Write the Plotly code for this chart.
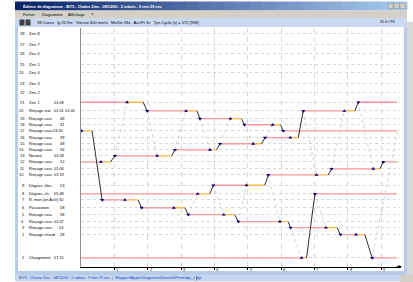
import plotly.graph_objects as go

W, H = 413, 282

# ---------------- data ----------------
station_num = [28, 27, 26, 25, 24, 23, 22, 21, 20, 19, 18, 17, 16, 15, 14, 13, 12, 11, 10, 9, 8, 7, 6, 5, 4, 3, 2, 1]
station_name = ["Zinc 8", "Zinc 7", "Zinc 6", "Zinc 5", "Zinc 4", "Zinc 3", "Zinc 2", "Zinc 1",
                "Rinçage stat", "Rinçage casc", "Rinçage casc", "Rinçage casc", "Rinçage casc",
                "Rinçage casc", "Rinçage casc", "Neutral.", "Rinçage casc", "Rinçage casc",
                "Rinçage casc", "Dégrais. élec.", "Dégrais. ch.", "R. mort (en Actir)",
                "Passivation", "Rinçage casc", "Rinçage casc", "Rinçage casc", "Rinçage chaud",
                "Chargement"]
station_time = ["", "", "", "", "", "", "", "01:09", "01:01", "48", "41", "03:20", "39", "48", "56",
                "01:09", "52", "01:06", "01:19", "53", "05:48", "30", "58", "58", "01:07", "54", "28",
                "07:15"]
station_time2 = ["", "", "", "", "", "", "", "", "01:04", "", "", "", "", "", "", "", "", "", "", "",
                 "", "", "", "", "", "", "", ""]
# position along the line (m), line length 25.9 m
station_pos = [0.0, 1.2, 2.3, 3.5, 4.5, 5.7, 6.8, 7.9, 8.9, 9.8, 10.5, 11.2, 12.0, 12.7, 13.4, 14.1,
               14.8, 15.6, 16.3, 17.5, 18.5, 19.2, 20.1, 20.9, 21.7, 22.4, 23.2, 25.9]

# transfers (seconds)
tr_from = [17, 12, 7, 21, 13, 6, 20, 8, 14, 5, 19, 9, 15, 18, 4, 16, 1, 10, 3, 20, 2, 11]
tr_to = [7, 13, 6, 20, 14, 5, 19, 9, 15, 4, 18, 10, 16, 17, 3, 20, 8, 11, 2, 21, 1, 12]
tr_pick = [1, 36, 79, 83, 137, 167, 189, 210, 232, 257, 269, 298, 310, 345, 358, 377, 397, 424, 441, 474, 495, 526]
tr_lift = [20, 53, 103, 112, 163, 187, 209, 232, 244, 277, 289, 331, 325, 359, 373, 391, 406, 445, 461, 493, 511, 538]
tr_drop = [38, 61, 109, 119, 169, 193, 214, 238, 250, 283, 294, 337, 331, 364, 377, 400, 421, 451, 467, 499, 524, 544]
tr_robot = [2, 1, 2, 1, 1, 2, 1, 2, 1, 2, 1, 2, 1, 1, 2, 1, 2, 1, 2, 1, 2, 1]
cycle = 569

minute_ticks = [60, 120, 180, 240, 300, 360, 420, 480, 540]
minute_labels = ["1'", "2'", "3'", "4'", "5'", "6'", "7'", "8'", "9'"]

title_text = "Éditeur de diagramme - B/75 - Chaîne Zinc - 08/12/00 - 2 robots - 9 min 29 sec"
menu_items = ["Fichier", "Diagramme", "Affichage", "?"]
toolbar_text = "28 Cuves   lg 25,9m   Vitesse 600 mm/s   Mo/De 18s   Acc/Fr 3s   Tps Cycle (s) = 572 (968)"
toolbar_right = "31.6 / 95"
status_text = "B/75 : Chaine Zinc : 08/12/00 : 2 robots : 9 min 29 sec  |  \\Mapperl\\Applic\\Diagramm\\Devis\\tk\\Perm\\dgr_1.dgr"

# ---------------- helpers ----------------
pos = dict(zip(station_num, station_pos))


def px(x):
    return x / W


def py(y):
    return 1 - y / H


FONT = "Liberation Sans"

# ---------------- traces ----------------
fig = go.Figure()

# tank occupation (pink)
occ_x, occ_y = [], []
n = len(tr_from)
for i in range(n):
    st = tr_to[i]
    t0 = tr_drop[i]
    picks = [tr_pick[j] for j in range(n) if tr_from[j] == st]
    after = [p for p in picks if p > t0]
    if after:
        occ_x += [t0, min(after), None]
        occ_y += [pos[st], pos[st], None]
    else:
        t1 = min(picks)
        occ_x += [t0, cycle, None, 0, t1, None]
        occ_y += [pos[st], pos[st], None, pos[st], pos[st], None]
fig.add_trace(go.Scatter(x=occ_x, y=occ_y, mode="lines",
                         line=dict(color="#ff9a9a", width=1.3), hoverinfo="skip"))

# empty robot moves (grey dotted)
for r in (1, 2):
    idx = sorted([i for i in range(n) if tr_robot[i] == r], key=lambda i: tr_pick[i])
    ex, ey = [], []
    for k, i in enumerate(idx):
        j = idx[(k + 1) % len(idx)]
        tp = tr_pick[j] + (cycle if k == len(idx) - 1 else 0)
        ex += [tr_drop[i], tp, None]
        ey += [pos[tr_to[i]], pos[tr_from[j]], None]
        if k == len(idx) - 1:
            ex += [tr_drop[i] - cycle, tr_pick[j], None]
            ey += [pos[tr_to[i]], pos[tr_from[j]], None]
    fig.add_trace(go.Scatter(x=ex, y=ey, mode="lines",
                             line=dict(color="#c4c4c4", width=0.8, dash="dot"), hoverinfo="skip"))

# lifting / dripping (orange)
ox, oy = [], []
for i in range(n):
    ox += [tr_pick[i], tr_lift[i], None]
    oy += [pos[tr_from[i]], pos[tr_from[i]], None]
fig.add_trace(go.Scatter(x=ox, y=oy, mode="lines",
                         line=dict(color="#ffb84d", width=1.3), hoverinfo="skip"))

# loaded transfer (black)
bx, by = [], []
for i in range(n):
    bx += [tr_lift[i], tr_drop[i], tr_drop[i] + 3, None]
    by += [pos[tr_from[i]], pos[tr_to[i]], pos[tr_to[i]], None]
fig.add_trace(go.Scatter(x=bx, y=by, mode="lines",
                         line=dict(color="#303030", width=1), hoverinfo="skip"))

# markers
fig.add_trace(go.Scatter(x=tr_pick, y=[pos[s] for s in tr_from], mode="markers",
                         marker=dict(symbol="triangle-up", size=3.5, color="#000080"), hoverinfo="skip"))
fig.add_trace(go.Scatter(x=tr_drop, y=[pos[s] for s in tr_to], mode="markers",
                         marker=dict(symbol="triangle-down", size=3.5, color="#000080"), hoverinfo="skip"))

# ---------------- window chrome ----------------
shapes = []


def rect(x0, y0, x1, y1, color, layer="below", line=None):
    shapes.append(dict(type="rect", xref="paper", yref="paper",
                       x0=px(x0), x1=px(x1), y0=py(y1), y1=py(y0),
                       fillcolor=color, line=line or dict(width=0), layer=layer))


# title bar gradient
c0 = (10, 36, 106)
c1 = (166, 202, 240)
steps = 30
x_start, x_end = 15, 407
for k in range(steps):
    f = k / (steps - 1)
    col = "rgb(%d,%d,%d)" % tuple(int(c0[m] + (c1[m] - c0[m]) * f) for m in range(3))
    xa = x_start + (x_end - x_start) * k / steps
    xb = x_start + (x_end - x_start) * (k + 1) / steps + 0.5
    rect(xa, 1.5, xb, 10.5, col)
# title buttons
for bx0 in (388, 394, 400):
    rect(bx0, 3.2, bx0 + 5.2, 8.8, "#d4d0c8", layer="above", line=dict(color="#808080", width=0.5))
# menu bar
rect(15, 10.5, 407, 18, "#d4d0c8")
# toolbar
rect(15, 18, 407, 27, "#c9daf0")
rect(19.5, 19.5, 24.5, 25.5, "#404040", layer="above")
rect(25.5, 19.5, 30.5, 25.5, "#404040", layer="above")
# left frame
rect(15, 27, 18, 275, "#b9cbe6")
# right frame / grey desktop
rect(404, 27, 407, 275, "#b9cbe6")
rect(407, 22, 413, 282, "#d8d8d8")
# bottom frame and status bar
rect(15, 271, 407, 275, "#b9cbe6")
rect(15, 275, 407, 281.5, "#c6d7f0")
rect(196, 275.5, 197, 281, "#8090b0")
rect(400, 275, 413, 282, "#d4d0c8")

annotations = []


def text(x, y, s, size=4.0, color="#000000", anchor="left", bold=False, yref="paper", xref="paper"):
    annotations.append(dict(x=(px(x) if xref == "paper" else x), y=(py(y) if yref == "paper" else y),
                            xref=xref, yref=yref,
                            text=("<b>%s</b>" % s if bold else s), showarrow=False,
                            xanchor=anchor, yanchor="middle",
                            font=dict(family=FONT, size=size, color=color)))


text(21, 6, title_text, size=3.8, color="#ffffff", bold=True)
for s, xx in zip(menu_items, [21, 40, 66, 89]):
    text(xx, 14.3, s, size=4.0, color="#000000")
text(35, 22.5, toolbar_text, size=4.0)
text(397, 22.5, toolbar_right, size=3.8, anchor="right")
text(17, 278.2, status_text, size=3.8, color="#1a3fc0")

# station labels
for num, name, t1, t2, p in zip(station_num, station_name, station_time, station_time2, station_pos):
    text(25.8, p, str(num), anchor="right", yref="y", size=3.9)
    text(27.3, p, name, anchor="left", yref="y", size=3.9)
    if t1:
        text(66, p, t1, anchor="right", yref="y", size=3.9)
    if t2:
        text(78, p, t2, anchor="right", yref="y", size=3.9)

# minute labels on the time axis
for tv, tl in zip(minute_ticks, minute_labels):
    text(tv, 269.6, tl, size=3.6, anchor="left", xref="x")

# axis arrow
annotations.append(dict(x=px(402), y=py(266.8), xref="paper", yref="paper", ax=-7, ay=0,
                        showarrow=True, arrowhead=2, arrowsize=0.7, arrowwidth=1, arrowcolor="#000",
                        text=""))

x_range = [0, (400 - 81) * 1.8]

fig.update_layout(
    width=W, height=H, margin=dict(l=0, r=0, t=0, b=0),
    paper_bgcolor="#ffffff", plot_bgcolor="#ffffff",
    showlegend=False, shapes=shapes, annotations=annotations, hovermode=False,
    xaxis=dict(domain=[px(81), px(400)], range=x_range, tickvals=minute_ticks,
               showticklabels=False,
               showgrid=True, gridcolor="#d8d8d8", griddash="5px,4px", gridwidth=1,
               showline=True, linecolor="#000000", linewidth=1, zeroline=False,
               ticks="outside", ticklen=2, tickcolor="#000000"),
    yaxis=dict(domain=[py(266.8), py(28)], range=[26.93, -0.69], tickvals=station_pos,
               showticklabels=False, showgrid=True, gridcolor="#d8d8d8", griddash="dot", gridwidth=1,
               showline=True, linecolor="#909090", linewidth=1, zeroline=False, ticks=""),
)

fig.write_html("out.html", config={"displayModeBar": False, "staticPlot": True},
               post_script="document.body.style.margin='0';document.body.style.overflow='hidden';")
